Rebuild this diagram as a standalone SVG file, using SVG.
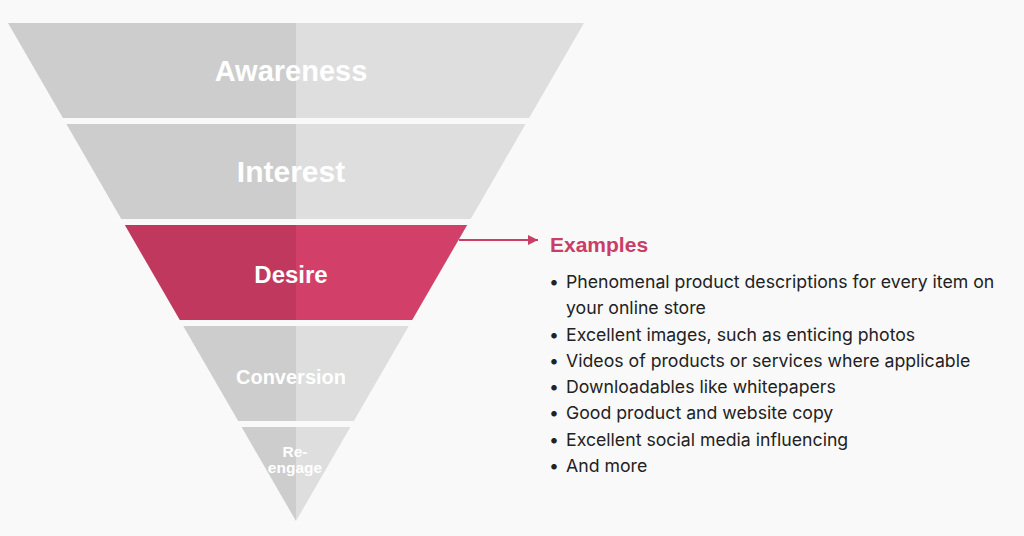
<svg xmlns="http://www.w3.org/2000/svg" width="1024" height="536" viewBox="0 0 1024 536">
<defs>
<style>
.l{fill:#cdcdcd}
.r{fill:#dedede}
.dl{fill:#c1385f}
.dr{fill:#d2406a}
.lab{font-family:"Liberation Sans",Arial,sans-serif;font-weight:bold;fill:#ffffff;text-anchor:middle}
.it{font-family:Inter,"Liberation Sans",Arial,sans-serif;font-size:17.7px;fill:#222222}
.hd{font-family:"Liberation Sans",Arial,sans-serif;font-size:21px;font-weight:bold;fill:#c93d66}
</style>
<marker id="ah" viewBox="0 0 10 10" refX="10" refY="5" markerWidth="10" markerHeight="10" markerUnits="userSpaceOnUse" orient="auto">
<path d="M0,0 L10,5 L0,10 z" fill="#c93d66"/>
</marker>
</defs>
<rect width="1024" height="536" fill="#f9f9f9"/>
<g id="awareness">
<polygon class="l" points="8,23 296,23 296,118 62.9,118"/>
<polygon class="r" points="296,23 584,23 529.1,118 296,118"/>
<text class="lab" x="291" y="81" font-size="29">Awareness</text>
</g>
<g id="interest">
<polygon class="l" points="66.4,124 296,124 296,219 121.3,219"/>
<polygon class="r" points="296,124 525.6,124 470.7,219 296,219"/>
<text class="lab" x="291" y="182" font-size="30">Interest</text>
</g>
<g id="desire">
<polygon class="dl" points="124.8,225 296,225 296,320 179.8,320"/>
<polygon class="dr" points="296,225 467.2,225 412.2,320 296,320"/>
<text class="lab" x="291" y="283" font-size="24">Desire</text>
</g>
<g id="conversion">
<polygon class="l" points="183.2,326 296,326 296,421 238.2,421"/>
<polygon class="r" points="296,326 408.8,326 353.8,421 296,421"/>
<text class="lab" x="291" y="384" font-size="20">Conversion</text>
</g>
<g id="reengage">
<polygon class="l" points="241.6,427 296,427 296,521"/>
<polygon class="r" points="296,427 350.4,427 296,521"/>
<text class="lab" x="295" y="457" font-size="15.5">Re-</text>
<text class="lab" x="295" y="473" font-size="15.5">engage</text>
</g>
<g id="connectors">
<line x1="459" y1="240" x2="538" y2="240" stroke="#c93d66" stroke-width="2" marker-end="url(#ah)"/>
</g>
<g id="examples">
<text class="hd" x="550" y="252">Examples</text>
<g class="it">
<text x="549" y="288">•</text><text x="566" y="288">Phenomenal product descriptions for every item on</text>
<text x="566" y="314">your online store</text>
<text x="549" y="341">•</text><text x="566" y="341">Excellent images, such as enticing photos</text>
<text x="549" y="367">•</text><text x="566" y="367">Videos of products or services where applicable</text>
<text x="549" y="393">•</text><text x="566" y="393">Downloadables like whitepapers</text>
<text x="549" y="419">•</text><text x="566" y="419">Good product and website copy</text>
<text x="549" y="446">•</text><text x="566" y="446">Excellent social media influencing</text>
<text x="549" y="472">•</text><text x="566" y="472">And more</text>
</g>
</g>
</svg>
